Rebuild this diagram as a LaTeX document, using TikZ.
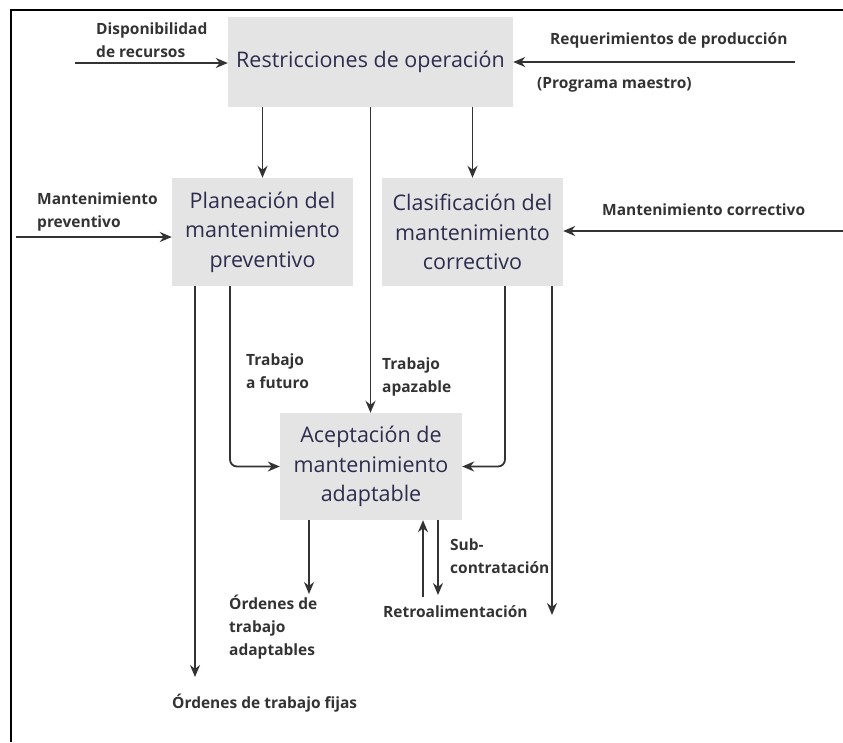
\documentclass[tikz,border=0pt]{standalone}
\usepackage{fontspec}
\setmainfont{Open Sans}
\usetikzlibrary{arrows.meta}
\definecolor{boxfill}{RGB}{228,228,228}
\definecolor{boxtext}{RGB}{45,45,78}
\definecolor{ink}{RGB}{51,51,51}
\tikzset{
  procbox/.style={draw=none, fill=boxfill, text=boxtext, inner sep=0pt, align=center,
    font=\fontsize{21.5pt}{29.5pt}\selectfont},
  lbl/.style={inner sep=0pt, anchor=west, align=left, text=ink,
    font=\fontsize{15.5pt}{23pt}\selectfont\bfseries},
  arr/.style={draw=ink, line width=1.8pt, -{Stealth[length=12pt,width=10pt]}},
  frameline/.style={draw=black, line width=2pt}
}
\begin{document}
\begin{tikzpicture}[x=1pt, y=-1pt]
\useasboundingbox (0,0) rectangle (843,742);
% frame
\coordinate (fTL) at (11,10);
\coordinate (fTR) at (843,10);
\coordinate (fBL) at (11,742);
\draw[frameline] (fTR) -- (fTL) -- (fBL);

% boxes
\node[procbox, minimum width=285pt, minimum height=90pt] (restr) at (370.5,62) {Restricciones de operación};
\node[procbox, minimum width=181pt, minimum height=108pt] (plan) at (262.5,232) {Planeación del\\mantenimiento\\preventivo};
\node[procbox, minimum width=181pt, minimum height=108pt] (clas) at (472.5,232) {Clasificación del\\mantenimiento\\correctivo};
\node[procbox, minimum width=182pt, minimum height=107pt] (acep) at (371,466.5) {Aceptación de\\mantenimiento\\adaptable};

% free ends
\coordinate (dispS) at (75,63);
\coordinate (reqS) at (795,62);
\coordinate (mprevS) at (16,237);
\coordinate (mcorrS) at (843,231);
\coordinate (fijasE) at (195,677);
\coordinate (farE) at (552,615);
\coordinate (adaptE) at (309,594);
\coordinate (retroS) at (423,597);
\coordinate (subE) at (438,595);

% arrows
\draw[arr] (dispS) -- (dispS -| restr.west);
\draw[arr] (reqS) -- (reqS -| restr.east);
\draw[arr] (restr.south -| plan.north) -- (plan.north);
\draw[arr] (restr.south -| clas.north) -- (clas.north);
\draw[arr] (restr.south) -- (restr.south |- acep.north);
\draw[arr] (mprevS) -- (mprevS -| plan.west);
\draw[arr] (mcorrS) -- (mcorrS -| clas.east);
\draw[arr] (fijasE |- plan.south) -- (fijasE);
\draw[arr, rounded corners=7pt] (230,286) |- (acep.west);
\draw[arr, rounded corners=7pt] (505,286) |- (acep.east);
\draw[arr] (farE |- clas.south) -- (farE);
\draw[arr] (adaptE |- acep.south) -- (adaptE);
\draw[arr] (retroS) -- (retroS |- acep.south);
\draw[arr] (subE |- acep.south) -- (subE);

% labels
\node[lbl] (lDisp) at (96,40) {Disponibilidad\\de recursos};
\node[lbl] (lReq) at (550,40) {Requerimientos de producción};
\node[lbl] (lProg) at (537,85) {(Programa maestro)};
\node[lbl] (lMprev) at (37,212) {Mantenimiento\\preventivo};
\node[lbl] (lMcorr) at (602,210) {Mantenimiento correctivo};
\node[lbl] (lFut) at (246,371) {Trabajo\\a futuro};
\node[lbl] (lApa) at (382,377) {Trabajo\\apazable};
\node[lbl] (lSub) at (450,556) {Sub-\\contratación};
\node[lbl] (lAdapt) at (229,627) {Órdenes de\\trabajo\\adaptables};
\node[lbl] (lRetro) at (383,612) {Retroalimentación};
\node[lbl] (lFijas) at (172,703) {Órdenes de trabajo fijas};
\end{tikzpicture}
\end{document}
